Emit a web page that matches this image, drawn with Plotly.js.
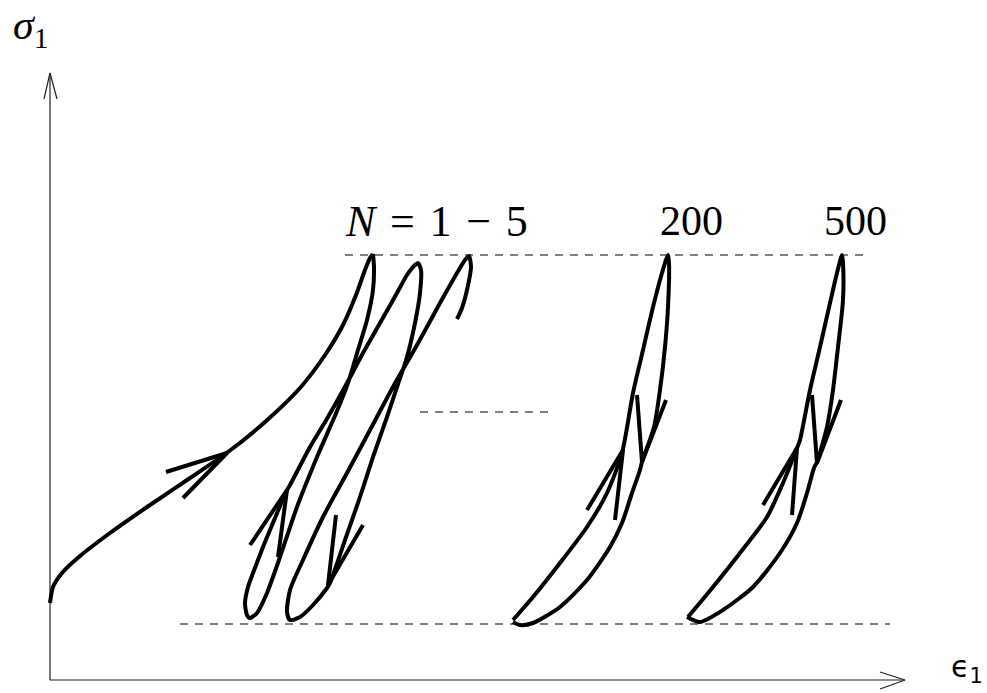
<!DOCTYPE html>
<html>
<head>
<meta charset="utf-8">
<script src="https://cdn.plot.ly/plotly-3.0.1.min.js"></script>
<style>html,body{margin:0;padding:0;background:#fff;}#chart{width:987px;height:693px;}</style>
</head>
<body>
<div id="chart"></div>
<script>
// Strain (eps) and stress (sig) values read from the schematic (arbitrary units)
const initEps = [0, 3, 12, 30, 60, 100, 140, 178, 215, 250, 275, 293, 306, 315, 320, 323];
const initSig = [77, 93, 107, 124, 147, 175, 202, 228, 258, 292, 325, 355, 385, 410, 422, 426];

const cycEps = [323, 324, 323, 317, 308, 298, 287, 267, 247, 230, 217, 207, 200,
  197, 195, 198, 203, 213, 225, 237, 240, 260, 278, 297, 313, 330, 347, 357, 365, 368,
  371, 370, 365, 357, 347, 337, 323, 310, 295, 280, 277, 263, 250, 240,
  237, 240, 253, 273, 297, 320, 343, 367, 390, 407, 415, 419,
  421, 417, 412, 407];
const cycSig = [426, 413, 390, 360, 330, 297, 269, 223, 173, 123, 87, 67, 62,
  65, 77, 93, 107, 133, 162, 190, 195, 233, 263, 297, 327, 357, 387, 405, 415, 417,
  410, 387, 357, 323, 293, 263, 223, 183, 140, 97, 92, 75, 63, 60,
  68, 90, 120, 163, 207, 250, 293, 335, 377, 407, 420, 424,
  413, 390, 372, 361];

const n200Eps = [463, 483, 510, 537, 557, 572, 583, 593, 603, 612, 618,
  619, 618, 615, 610, 604, 592, 590, 582, 572, 560, 537, 510, 483, 470, 463];
const n200Sig = [60, 83, 117, 153, 187, 227, 287, 330, 373, 407, 425,
  417, 373, 333, 290, 253, 218, 210, 187, 157, 133, 100, 73, 57, 55, 58];

const n500Eps = [638, 663, 690, 717, 733, 747, 750, 760, 770, 780, 787, 792,
  793, 793, 788, 783, 777, 767, 764, 757, 747, 730, 703, 673, 650, 637];
const n500Sig = [63, 93, 127, 163, 197, 232, 240, 290, 333, 377, 407, 425,
  417, 380, 333, 290, 253, 218, 212, 187, 157, 127, 93, 70, 58, 63];

// arrowheads on the curves: [arm, tip, arm]
const arrows = [
  {eps: [116, 177, 133], sig: [208, 227, 182]},
  {eps: [200, 237, 228], sig: [135, 190, 123]},
  {eps: [286, 278, 313], sig: [165, 95, 155]},
  {eps: [537, 573, 565], sig: [170, 230, 160]},
  {eps: [587, 592, 616], sig: [285, 218, 280]},
  {eps: [713, 747, 742], sig: [175, 232, 165]},
  {eps: [762, 767, 791], sig: [285, 217, 280]}
];

// reference levels (dashed)
const levelTopEps = [295, 815], levelTopSig = [425, 425];
const levelMidEps = [370, 500], levelMidSig = [268, 268];
const levelBotEps = [130, 840], levelBotSig = [56, 56];

// axes with open arrowheads
const yAxisEps = [0, 0], yAxisSig = [0, 607];
const yHeadEps = [-6, 0, 7], yHeadSig = [581, 607, 581];
const xAxisEps = [0, 855], xAxisSig = [0, 0];
const xHeadEps = [830, 855, 830], xHeadSig = [8, 0, -9];

const sp = '\u2004';
const labels = [
  {text: '<i>N</i>' + sp + '=' + sp + '1' + sp + '−' + sp + '5', eps: 386, sig: 459, size: 44},
  {text: '200', eps: 641, sig: 459, size: 42},
  {text: '500', eps: 805, sig: 459, size: 42}
];

const curve = (x, y) => ({x, y, mode: 'lines', type: 'scatter', hoverinfo: 'skip',
  line: {color: '#000', width: 4, shape: 'spline', smoothing: 0.7}});
const straight = (x, y, w, c, d) => ({x, y, mode: 'lines', type: 'scatter', hoverinfo: 'skip',
  line: {color: c, width: w, dash: d || 'solid'}});

const traces = [
  straight(levelTopEps, levelTopSig, 1.3, '#555', '8px,7px'),
  straight(levelMidEps, levelMidSig, 1.3, '#555', '8px,7px'),
  straight(levelBotEps, levelBotSig, 1.3, '#555', '8px,7px'),
  straight(yAxisEps, yAxisSig, 1.2, '#222'),
  straight(yHeadEps, yHeadSig, 1.2, '#222'),
  straight(xAxisEps, xAxisSig, 1.2, '#222'),
  straight(xHeadEps, xHeadSig, 1.2, '#222'),
  curve(initEps, initSig),
  curve(cycEps, cycSig),
  curve(n200Eps, n200Sig),
  curve(n500Eps, n500Sig)
];
arrows.forEach(a => traces.push(straight(a.eps, a.sig, 4, '#000')));

const annotations = labels.map(l => ({x: l.eps, y: l.sig, xref: 'x', yref: 'y', text: l.text,
  showarrow: false, xanchor: 'center', yanchor: 'middle',
  font: {family: 'Liberation Serif, serif', size: l.size, color: '#000'}}));
annotations.push({x: -20, y: 652, xref: 'x', yref: 'y', text: '<i>σ</i><sub>1</sub>', showarrow: false,
  xanchor: 'center', yanchor: 'middle', font: {family: 'Liberation Serif, serif', size: 42, color: '#000'}});
annotations.push({x: 917, y: 12, xref: 'x', yref: 'y', text: 'ϵ<sub>1</sub>', showarrow: false,
  xanchor: 'center', yanchor: 'middle', font: {family: 'DejaVu Sans, sans-serif', size: 30, color: '#000'}});

const layout = {
  width: 987, height: 693,
  margin: {l: 0, r: 0, t: 0, b: 0},
  paper_bgcolor: '#fff', plot_bgcolor: '#fff',
  showlegend: false,
  xaxis: {range: [-50, 937], visible: false, fixedrange: true},
  yaxis: {range: [-13, 680], visible: false, fixedrange: true},
  annotations
};
Plotly.newPlot('chart', traces, layout, {displayModeBar: false, staticPlot: true});
</script>
</body>
</html>
